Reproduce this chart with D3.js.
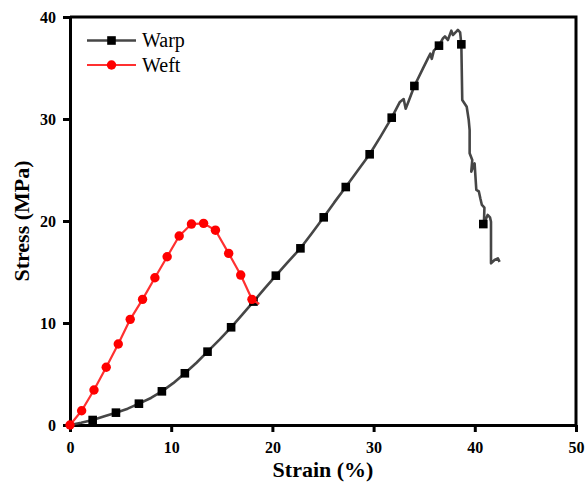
<!DOCTYPE html>
<html>
<head>
<meta charset="utf-8">
<script src="https://cdn.jsdelivr.net/npm/d3@7"></script>
<style>
  html, body { margin: 0; padding: 0; background: #fff; }
  svg { display: block; }
  text { font-family: "Liberation Serif", "Times New Roman", serif; }
</style>
</head>
<body>
<svg id="chart" width="587" height="483"></svg>
<script>
// Tensile stress–strain curves, warp and weft directions
const xTicks = [0, 10, 20, 30, 40, 50];
const yTicks = [0, 10, 20, 30, 40];

// Warp: continuous curve
const warpStrain = [0, 1.1, 2.24, 3.4, 4.54, 5.7, 6.81, 8.0, 9.08, 10.2, 11.35, 12.5, 13.59, 14.8, 15.92,
  17.0, 18.13, 19.2, 20.34, 21.5, 22.77, 23.9, 25.07, 26.1, 27.25, 28.4, 29.61, 30.7, 31.79, 32.6,
  32.97, 33.17, 33.47, 34.03, 34.88, 35.37, 35.6, 35.75, 35.95, 36.46, 36.85, 37.05, 37.34, 37.68,
  37.84, 38.17, 38.33, 38.55, 38.67, 38.76, 39.2, 39.4, 39.49, 39.49, 39.75, 39.65, 39.98, 40.15,
  40.4, 40.55, 40.7, 40.95, 40.9, 41.27, 41.5, 41.6, 41.6, 41.95, 42.28, 42.45];
const warpStress = [0, 0.22, 0.49, 0.85, 1.21, 1.6, 2.09, 2.65, 3.30, 4.1, 5.07, 6.1, 7.19, 8.4, 9.58,
  10.8, 12.1, 13.35, 14.64, 15.95, 17.32, 18.8, 20.36, 21.8, 23.33, 24.9, 26.54, 28.3, 30.13, 31.67,
  31.96, 31.0, 31.76, 33.24, 34.97, 35.95, 36.4, 35.9, 36.7, 37.19, 37.9, 38.1, 37.74, 38.66,
  38.24, 38.56, 38.73, 38.5, 37.32, 31.86, 31.2, 29.9, 28.9, 26.64, 25.98, 24.83, 25.65, 23.04,
  22.9, 22.2, 21.57, 21.3, 19.7, 20.6, 20.36, 19.93, 15.85, 16.18, 16.34, 16.0];

// Warp: symbol positions
const warpMarkStrain = [2.24, 4.54, 6.81, 9.08, 11.35, 13.59, 15.92, 18.13, 20.34, 22.77, 25.07, 27.25,
  29.61, 31.79, 34.03, 36.46, 38.67, 40.84];
const warpMarkStress = [0.49, 1.21, 2.09, 3.30, 5.07, 7.19, 9.58, 12.1, 14.64, 17.32, 20.36, 23.33,
  26.54, 30.13, 33.24, 37.19, 37.32, 19.7];

// Weft: continuous curve
const weftStrain = [0, 1.15, 2.37, 3.58, 4.77, 5.95, 7.17, 8.39, 9.6, 10.79, 12.0, 13.2, 14.37, 15.68, 16.87, 17.98, 18.7];
const weftStress = [0, 1.4, 3.43, 5.66, 7.94, 10.36, 12.32, 14.44, 16.5, 18.53, 19.7, 19.77, 19.1, 16.83, 14.7, 12.32, 11.86];

// Weft: symbol positions
const weftMarkStrain = [0, 1.15, 2.37, 3.58, 4.77, 5.95, 7.17, 8.39, 9.6, 10.79, 12.0, 13.2, 14.37, 15.68, 16.87, 17.98];
const weftMarkStress = [0, 1.4, 3.43, 5.66, 7.94, 10.36, 12.32, 14.44, 16.5, 18.53, 19.7, 19.77, 19.1, 16.83, 14.7, 12.32];

const seriesNames = ["Warp", "Weft"];
const WARP_LINE = "#464646", WARP_MARK = "#000";
const WEFT_LINE = "#ff3030", WEFT_MARK = "#ff0000";

const svg = d3.select("#chart");
const plot = { left: 70, right: 576, top: 17, bottom: 425 };

const x = d3.scaleLinear().domain([0, 50]).range([plot.left, plot.right]);
const y = d3.scaleLinear().domain([0, 40]).range([plot.bottom, plot.top]);

const zip = (a, b) => a.map((v, i) => [v, b[i]]);
const line = d3.line().x(d => x(d[0])).y(d => y(d[1]));

// frame (top and right edges)
svg.append("path")
  .attr("d", `M${plot.left},${plot.top}H${plot.right}V${plot.bottom}`)
  .attr("fill", "none").attr("stroke", "#000").attr("stroke-width", 3);

// axes
const xAxis = svg.append("g").attr("transform", `translate(0,${plot.bottom})`)
  .call(d3.axisBottom(x).tickValues(xTicks).tickSize(7).tickSizeOuter(0).tickPadding(10));
const yAxis = svg.append("g").attr("transform", `translate(${plot.left},0)`)
  .call(d3.axisLeft(y).tickValues(yTicks).tickSize(7).tickSizeOuter(0).tickPadding(7));

[xAxis, yAxis].forEach(g => {
  g.select(".domain").attr("stroke", "#000").attr("stroke-width", 3);
  g.selectAll(".tick line").attr("stroke", "#000").attr("stroke-width", 3);
  g.selectAll(".tick text")
    .attr("fill", "#000")
    .style("font-family", '"Liberation Serif", "Times New Roman", serif')
    .style("font-size", "16px").style("font-weight", "bold");
});

// axis titles
svg.append("text")
  .attr("x", (plot.left + plot.right) / 2).attr("y", 477)
  .attr("text-anchor", "middle")
  .style("font-size", "22px").style("font-weight", "bold")
  .text("Strain (%)");
svg.append("text")
  .attr("transform", `translate(29,${(plot.top + plot.bottom) / 2}) rotate(-90)`)
  .attr("text-anchor", "middle")
  .style("font-size", "22px").style("font-weight", "bold")
  .text("Stress (MPa)");

// warp series
svg.append("path")
  .attr("d", line(zip(warpStrain, warpStress)))
  .attr("fill", "none").attr("stroke", WARP_LINE).attr("stroke-width", 2.6)
  .attr("stroke-linejoin", "round");
svg.append("g").selectAll("rect")
  .data(zip(warpMarkStrain, warpMarkStress))
  .join("rect")
  .attr("x", d => x(d[0]) - 4.3).attr("y", d => y(d[1]) - 4.3)
  .attr("width", 8.6).attr("height", 8.6)
  .attr("fill", WARP_MARK);

// weft series
svg.append("path")
  .attr("d", line(zip(weftStrain, weftStress)))
  .attr("fill", "none").attr("stroke", WEFT_LINE).attr("stroke-width", 2.2)
  .attr("stroke-linejoin", "round");
svg.append("g").selectAll("circle")
  .data(zip(weftMarkStrain, weftMarkStress))
  .join("circle")
  .attr("cx", d => x(d[0])).attr("cy", d => y(d[1])).attr("r", 4.7)
  .attr("fill", WEFT_MARK);

// legend
const legend = svg.append("g");
const legendRows = [
  { name: seriesNames[0], lineColor: WARP_LINE, markColor: WARP_MARK, shape: "square", cy: 40.5 },
  { name: seriesNames[1], lineColor: WEFT_LINE, markColor: WEFT_MARK, shape: "circle", cy: 65 }
];
legendRows.forEach(r => {
  legend.append("line")
    .attr("x1", 87).attr("x2", 136).attr("y1", r.cy).attr("y2", r.cy)
    .attr("stroke", r.lineColor).attr("stroke-width", r.shape === "square" ? 2.6 : 2.2);
  if (r.shape === "square") {
    legend.append("rect").attr("x", 111.5 - 4.3).attr("y", r.cy - 4.3)
      .attr("width", 8.6).attr("height", 8.6).attr("fill", r.markColor);
  } else {
    legend.append("circle").attr("cx", 111.5).attr("cy", r.cy).attr("r", 4.7).attr("fill", r.markColor);
  }
  legend.append("text")
    .attr("x", 142).attr("y", r.cy + 6.5)
    .style("font-size", "20px")
    .attr("fill", "#000")
    .text(r.name);
});
</script>
</body>
</html>
